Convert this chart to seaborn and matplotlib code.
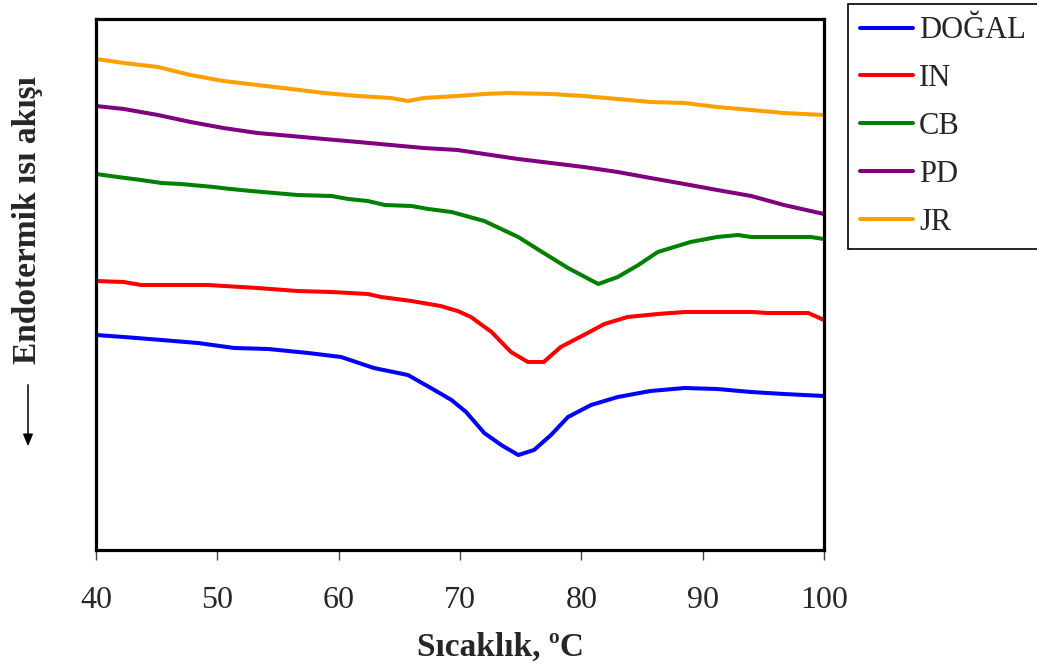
import numpy as np
import pandas as pd
import matplotlib
matplotlib.use("Agg")
import matplotlib.pyplot as plt
from matplotlib.patches import FancyArrowPatch
import seaborn as sns

# ---- data (heat flow in arbitrary units) ----
series_names = ["DOĞAL", "IN", "CB", "PD", "JR"]
colors = ["#0000FF", "#FF0000", "#008000", "#800080", "#FFA000"]

t_dogal = [40, 42.3, 45.4, 48.4, 51.4, 54.2, 57.5, 60.2, 62.9, 65.7, 67.6, 69.3, 70.5, 72.0, 73.4,
           74.8, 76.1, 77.5, 78.9, 80.8, 83.0, 85.7, 88.5, 91.2, 94.0, 96.7, 100]
v_dogal = [21.5, 21.3, 21.0, 20.7, 20.2, 20.1, 19.7, 19.3, 18.2, 17.5, 16.2, 15.0, 13.8, 11.7, 10.5,
           9.5, 10.0, 11.5, 13.3, 14.5, 15.3, 15.9, 16.2, 16.1, 15.8, 15.6, 15.4]

t_in = [40, 42.3, 43.7, 49.2, 53.3, 56.6, 59.4, 62.4, 63.5, 66.0, 68.4, 69.8, 70.9, 72.6, 74.2,
        75.6, 76.9, 78.3, 80.2, 81.9, 83.8, 86.3, 88.5, 94.0, 95.4, 98.7, 100]
v_in = [26.9, 26.8, 26.5, 26.5, 26.2, 25.9, 25.8, 25.6, 25.3, 24.9, 24.4, 23.9, 23.3, 21.8, 19.8,
        18.8, 18.8, 20.3, 21.5, 22.6, 23.3, 23.6, 23.8, 23.8, 23.7, 23.7, 23.0]

t_cb = [40, 41.8, 43.7, 45.4, 47.0, 49.7, 51.1, 52.8, 54.7, 56.6, 59.4, 60.8, 62.4, 63.8, 66.0,
        67.4, 69.3, 72.0, 74.8, 76.9, 78.9, 81.4, 83.0, 84.7, 86.3, 89.0, 91.2, 92.9, 94.0, 98.9, 100]
v_cb = [37.6, 37.3, 37.0, 36.7, 36.6, 36.3, 36.1, 35.9, 35.7, 35.5, 35.4, 35.1, 34.9, 34.5, 34.4,
        34.1, 33.8, 32.9, 31.3, 29.7, 28.2, 26.6, 27.3, 28.5, 29.8, 30.8, 31.3, 31.5, 31.3, 31.3, 31.1]

t_pd = [40, 42.3, 45.1, 47.8, 50.5, 53.3, 56.1, 58.8, 61.6, 64.3, 67.0, 69.8, 72.0, 74.8, 77.5,
        80.2, 83.0, 85.7, 88.5, 91.2, 94.0, 96.7, 100]
v_pd = [44.4, 44.1, 43.5, 42.8, 42.2, 41.7, 41.4, 41.1, 40.8, 40.5, 40.2, 40.0, 39.6, 39.1, 38.7,
        38.3, 37.8, 37.2, 36.6, 36.0, 35.4, 34.5, 33.6]

t_jr = [40, 42.3, 45.1, 47.8, 50.5, 53.3, 56.1, 58.8, 61.6, 64.3, 65.7, 67.0, 69.8, 72.0, 73.9,
        77.5, 80.2, 83.0, 85.7, 88.5, 91.2, 94.0, 96.7, 100]
v_jr = [49.1, 48.7, 48.3, 47.5, 46.9, 46.5, 46.1, 45.7, 45.4, 45.2, 44.9, 45.2, 45.4, 45.6, 45.7,
        45.6, 45.4, 45.1, 44.8, 44.7, 44.3, 44.0, 43.7, 43.5]

x_ticks = [40, 50, 60, 70, 80, 90, 100]
x_label = "Sıcaklık, ºC"
y_label = "Endotermik ısı akışı"

# ---- style ----
sns.set_style("white")
plt.rcParams["font.family"] = ["Liberation Serif", "DejaVu Serif"]

fig = plt.figure(figsize=(10.37, 6.71), dpi=100)
W, H = 1037, 671
ax_l, ax_r, ax_t, ax_b = 96, 824, 19, 550
ax = fig.add_axes([ax_l / W, 1 - ax_b / H, (ax_r - ax_l) / W, (ax_b - ax_t) / H])

all_t = [t_dogal, t_in, t_cb, t_pd, t_jr]
all_v = [v_dogal, v_in, v_cb, v_pd, v_jr]
for name, col, tt, vv in zip(series_names, colors, all_t, all_v):
    df = pd.DataFrame({"T": tt, "V": vv})
    sns.lineplot(data=df, x="T", y="V", ax=ax, color=col, linewidth=2.9,
                 sort=False, estimator=None, label=name)

ax.set_xlim(40, 100)
ax.set_ylim(0, 53.1)
ax.set_xticks(x_ticks)
ax.set_yticks([])
ax.tick_params(axis="x", direction="out", length=7, width=1.0, color="#444444",
               labelsize=23, pad=19, bottom=True)
for s in ax.spines.values():
    s.set_linewidth(2.3)
    s.set_color("black")

ax.set_xlabel(x_label, fontsize=24, fontweight="bold")
ax.set_ylabel("")
ax.xaxis.label.set_va("baseline")
ax.xaxis.set_label_coords(0.556, -(656 - 550) / (ax_b - ax_t))

fig.text(27.5 / W, 1 - 220 / H, y_label, rotation=90, ha="center", va="center",
         fontsize=24, fontweight="bold")

arrow = FancyArrowPatch((28 / W, 1 - 382 / H), (28 / W, 1 - 449 / H),
                        transform=fig.transFigure,
                        arrowstyle="-|>,head_length=0.36,head_width=0.15",
                        mutation_scale=20, color="black", linewidth=1.1)
fig.patches.append(arrow)

leg = ax.legend(loc="upper left", bbox_to_anchor=(848 / W, 1 - 4 / H),
                bbox_transform=fig.transFigure, frameon=True, fancybox=False,
                edgecolor="black", framealpha=1, fontsize=22,
                handlelength=1.73, handletextpad=0.2, labelspacing=0.62,
                borderpad=0.4, borderaxespad=0)
leg.get_frame().set_linewidth(1.2)
for h in leg.get_lines():
    h.set_linewidth(2.9)

fig.savefig("out.png", dpi=100)
